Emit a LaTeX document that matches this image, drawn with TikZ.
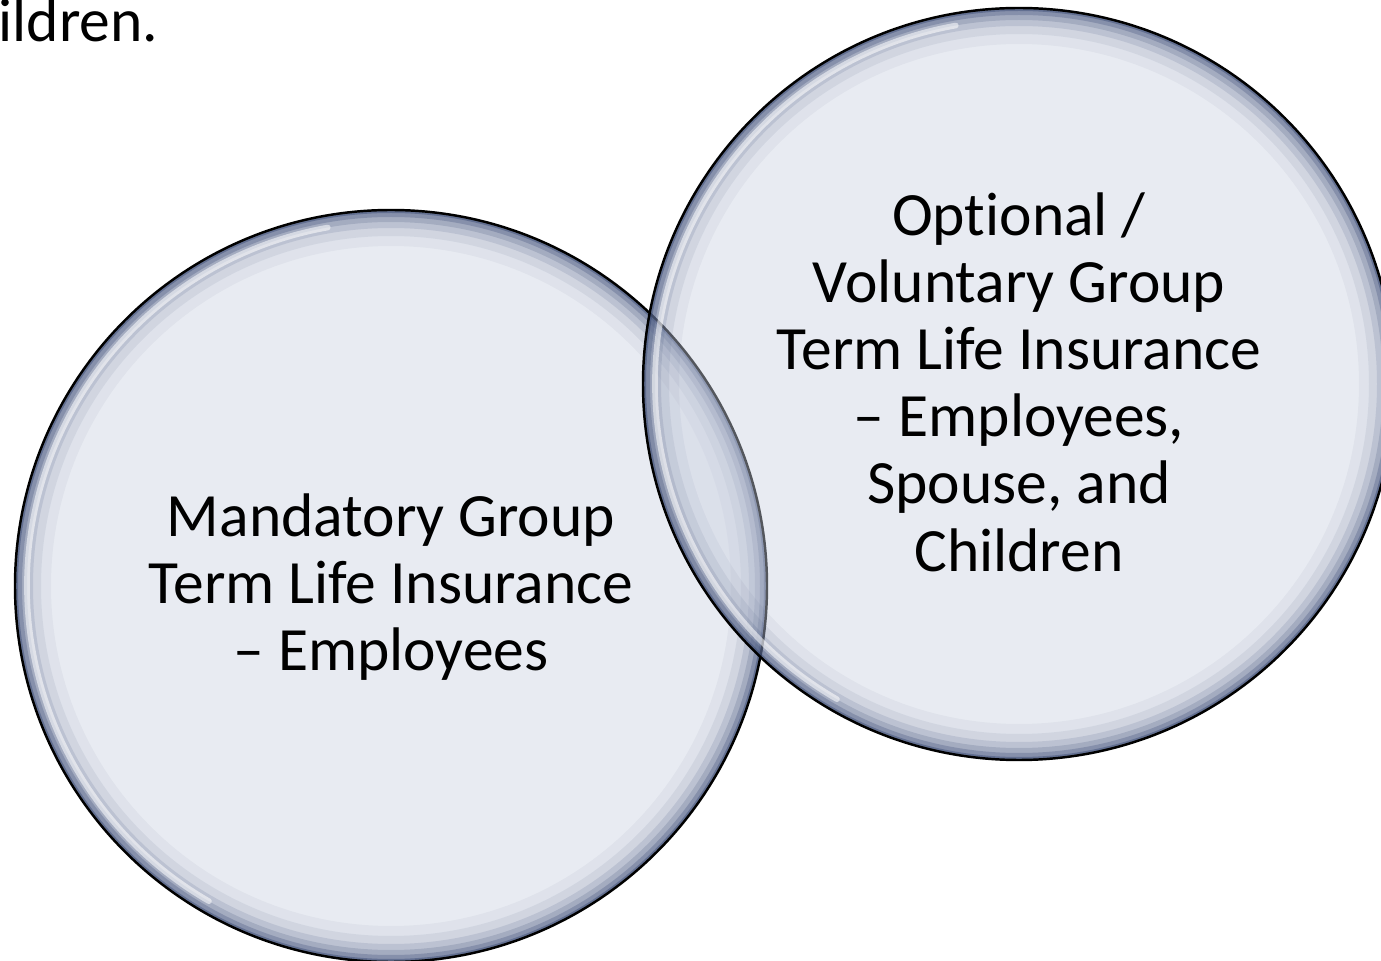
\documentclass[tikz,border=0pt]{standalone}
\usepackage{fontspec}
\setmainfont[Ligatures=NoCommon]{Carlito}
\definecolor{bubble}{HTML}{C9D0E0}
\definecolor{glow}{HTML}{2E3F6B}
\tikzset{
  bubblefill/.style={fill=bubble, fill opacity=0.42},
  rim/.style={draw=black, line width=0.7pt},
  label/.style={align=center, font=\fontsize{17.5}{19.1}\selectfont, text=black, inner sep=0pt}
}
\begin{document}
\begin{tikzpicture}[x=0.01cm, y=-0.01cm]
\useasboundingbox (0,0) rectangle (1381,961);
\clip (0,0) rectangle (1381,961);
\coordinate (L) at (391,586);
\coordinate (R) at (1019,384);
\node[anchor=base west, font=\fontsize{17.5}{19.1}\selectfont, inner sep=0pt] (top) at (-2,42) {ildren.};
% left bubble
\fill[bubblefill] (L) circle (376);
\foreach \w/\o in {36/0.05, 26/0.08, 18/0.12, 12/0.17, 7/0.25, 3/0.4}
  \draw[glow, line width=\w*0.2845pt, opacity=\o] (L) circle ({376-\w/2});
\draw[white, line width=1.6pt, opacity=0.55, line cap=round] (L) ++(120:364) arc (120:260:364);
\draw[rim] (L) circle (376);
% right bubble
\fill[bubblefill] (R) circle (376);
\foreach \w/\o in {36/0.05, 26/0.08, 18/0.12, 12/0.17, 7/0.25, 3/0.4}
  \draw[glow, line width=\w*0.2845pt, opacity=\o] (R) circle ({376-\w/2});
\draw[white, line width=1.6pt, opacity=0.55, line cap=round] (R) ++(120:364) arc (120:260:364);
\draw[rim] (R) circle (376);
% texts
\node[label] (lt) at (391,587) {Mandatory Group\\Term Life Insurance\\– Employees};
\node[label] (rt) at (1019,382) {Optional /\\Voluntary Group\\Term Life Insurance\\– Employees,\\Spouse, and\\Children};
\end{tikzpicture}
\end{document}
